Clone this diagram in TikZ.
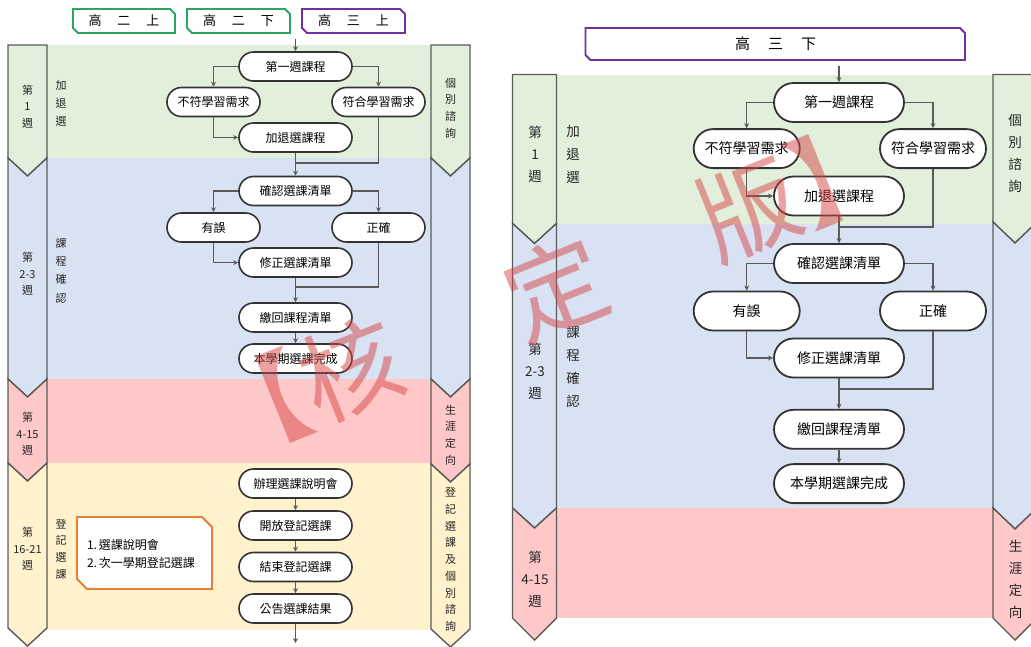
\documentclass[tikz,border=0pt]{standalone}
\usepackage{fontspec}
\setmainfont{Noto Sans CJK TC}
\usetikzlibrary{arrows.meta}
\definecolor{bgreen}{HTML}{E2EFDA}
\definecolor{bblue}{HTML}{D9E2F3}
\definecolor{bpink}{HTML}{FFC8C8}
\definecolor{byellow}{HTML}{FFF2CC}
\definecolor{chevline}{HTML}{5A5A5A}
\definecolor{boxline}{HTML}{333333}
\definecolor{tabgreen}{HTML}{2EA55E}
\definecolor{tabpurple}{HTML}{7030A0}
\definecolor{noteorange}{HTML}{E87D33}
\definecolor{wmred}{HTML}{D64545}
% chevron: x1 x2 ytop ybot depth fill topdepth
\newcommand\mychev[7]{\filldraw[chev,fill=#6] (#1,#3) -- ({(#1+#2)/2},{#3+#7}) -- (#2,#3) -- (#2,#4) -- ({(#1+#2)/2},{#4+#5}) -- (#1,#4) -- cycle;}
% snipped box: x1 y1 x2 y2 snip style
\newcommand\snipbox[6]{\draw[#6] (#1,#2) -- ({#3-#5},#2) -- (#3,{#2+#5}) -- (#3,#4) -- ({#1+#5},#4) -- (#1,{#4-#5}) -- cycle;}
\tikzset{
  lbox/.style={draw=boxline, line width=1.6pt, fill=white, rounded corners=14.5pt, minimum width=113pt, minimum height=29pt, inner sep=0pt, font=\fontsize{12}{14}\selectfont},
  lboxs/.style={lbox, minimum width=93pt},
  rbox/.style={draw=boxline, line width=1.8pt, fill=white, rounded corners=19.5pt, minimum width=130pt, minimum height=39pt, inner sep=0pt, font=\fontsize{14}{16}\selectfont},
  rboxs/.style={rbox, minimum width=106pt},
  conn/.style={draw=chevline, line width=1.3pt},
  arr/.style={conn, -{Stealth[length=5pt,width=5pt]}},
  chev/.style={draw=chevline, line width=1.4pt, line join=miter},
  vlabL/.style={align=center, inner sep=0pt, text=black!85, font=\fontsize{11}{16.7}\selectfont},
  vlabLb/.style={align=center, inner sep=0pt, text=black!85, font=\fontsize{11}{18.2}\selectfont},
  vlabR/.style={align=center, inner sep=0pt, text=black!85, font=\fontsize{13.5}{22}\selectfont},
  vlabRb/.style={align=center, inner sep=0pt, text=black!85, font=\fontsize{13.5}{23}\selectfont},
  tabtxt/.style={inner sep=0pt, font=\fontsize{13}{15}\selectfont},
  tabgs/.style={draw=tabgreen, line width=1.8pt, fill=white},
  tabps/.style={draw=tabpurple, line width=1.8pt, fill=white},
  notes/.style={draw=noteorange, line width=1.8pt, fill=white},
  wm/.style={inner sep=0pt, text=wmred, text opacity=0.5, font=\fontsize{100}{100}\selectfont}
}
\begin{document}
\begin{tikzpicture}[x=1pt,y=-1pt]
\useasboundingbox (0,0) rectangle (1031,646);
% ================= LEFT PANEL =================
% bands
\fill[bgreen] (47,45) rectangle (431,158);
\fill[bblue] (47,158) rectangle (431,379);
\fill[bpink] (47,379) rectangle (431,463);
\fill[byellow] (47,463) rectangle (431,630);
% chevrons left column
\mychev{8}{47}{45}{158}{18}{bgreen}{0}
\mychev{8}{47}{158}{379}{18}{bblue}{18}
\mychev{8}{47}{379}{463}{18}{bpink}{18}
\mychev{8}{47}{463}{628}{18}{byellow}{18}
% chevrons right column
\mychev{431}{470}{45}{158}{18}{bgreen}{0}
\mychev{431}{470}{158}{379}{18}{bblue}{18}
\mychev{431}{470}{379}{464}{18}{bpink}{18}
\mychev{431}{470}{464}{629}{18}{byellow}{18}
% tabs
\snipbox{73}{9}{175}{33}{5}{tabgs}
\snipbox{187}{9}{290}{33}{5}{tabgs}
\snipbox{302}{9}{405}{33}{5}{tabps}
\node[tabtxt] (tabA) at (124,21) {高\hspace{16pt}二\hspace{16pt}上};
\node[tabtxt] (tabB) at (238.5,21) {高\hspace{16pt}二\hspace{16pt}下};
\node[tabtxt] (tabC) at (353.5,21) {高\hspace{16pt}三\hspace{16pt}上};
% chevron texts
\node[vlabL] (lw1) at (27.5,106.5) {第\\1\\週};
\node[vlabL] (lw2) at (27.5,274) {第\\2-3\\週};
\node[vlabL] (lw3) at (27.5,434) {第\\4-15\\週};
\node[vlabL] (lw4) at (27.5,549) {第\\16-21\\週};
\node[vlabLb] (lb1) at (61,103.5) {加\\退\\選};
\node[vlabLb] (lb2) at (61,270.5) {課\\程\\確\\認};
\node[vlabL] (lb3) at (61,549) {登\\記\\選\\課};
\node[vlabL] (lr1) at (450.5,108) {個\\別\\諮\\詢};
\node[vlabL] (lr2) at (450.5,435) {生\\涯\\定\\向};
\node[vlabL] (lr3) at (450.5,559.5) {登\\記\\選\\課\\及\\個\\別\\諮\\詢};
% note
\snipbox{77}{517}{212}{589}{10}{notes}
\node[align=left, text width=115pt, inner sep=0pt, font=\fontsize{12}{18}\selectfont] (note) at (144.5,554) {1.\,選課說明會\\2.\,次一學期登記選課};
% flow boxes
\node[lbox] (L1) at (295.5,66.5) {第一週課程};
\node[lboxs] (Lno) at (213.5,102) {不符學習需求};
\node[lboxs] (Lyes) at (378.5,102) {符合學習需求};
\node[lbox] (Ladd) at (295.5,137.5) {加退選課程};
\node[lbox] (Lconf) at (295.5,191) {確認選課清單};
\node[lboxs] (Lerr) at (213.5,227.5) {有誤};
\node[lboxs] (Lok) at (378.5,227.5) {正確};
\node[lbox] (Lfix) at (295.5,262.5) {修正選課清單};
\node[lbox] (Lsub) at (295.5,317.5) {繳回課程清單};
\node[lbox] (Ldone) at (295.5,358.5) {本學期選課完成};
\node[lbox] (Lr1) at (295.5,483.5) {辦理選課說明會};
\node[lbox] (Lr2) at (295.5,525.5) {開放登記選課};
\node[lbox] (Lr3) at (295.5,567) {結束登記選課};
\node[lbox] (Lr4) at (295.5,608.5) {公告選課結果};
\coordinate (Lt) at (295.5,39);
\coordinate (Lm1) at (295.5,163);
\coordinate (Lm2) at (295.5,287);
\coordinate (Lend) at (295.5,643);
% connectors
\draw[arr] (Lt) -- (L1.north);
\draw[arr] (L1.west) -| (Lno.north);
\draw[arr] (L1.east) -| (Lyes.north);
\draw[arr] (Lno.south) |- (Ladd.west);
\draw[conn] (Lyes.south) |- (Lm1);
\draw[arr] (Ladd.south) -- (Lconf.north);
\draw[arr] (Lconf.west) -| (Lerr.north);
\draw[arr] (Lconf.east) -| (Lok.north);
\draw[arr] (Lerr.south) |- (Lfix.west);
\draw[conn] (Lok.south) |- (Lm2);
\draw[arr] (Lfix.south) -- (Lsub.north);
\draw[arr] (Lsub.south) -- (Ldone.north);
\draw[arr] (Lr1.south) -- (Lr2.north);
\draw[arr] (Lr2.south) -- (Lr3.north);
\draw[arr] (Lr3.south) -- (Lr4.north);
\draw[arr] (Lr4.south) -- (Lend);
% ================= RIGHT PANEL =================
\fill[bgreen] (556.5,74.5) rectangle (993,223.5);
\fill[bblue] (556.5,223.5) rectangle (993,508);
\fill[bpink] (556.5,508) rectangle (993,618);
\mychev{512.5}{556.5}{74.5}{223.5}{20}{bgreen}{0}
\mychev{512.5}{556.5}{223.5}{508}{20}{bblue}{20}
\mychev{512.5}{556.5}{508}{618}{22}{bpink}{20}
\mychev{993}{1037}{74.5}{222}{21}{bgreen}{0}
\mychev{993}{1037}{222}{508}{21}{bblue}{21}
\mychev{993}{1037}{508}{618}{22}{bpink}{21}
\snipbox{585.5}{28}{965}{60}{5}{tabps}
\node[inner sep=0pt, font=\fontsize{15}{17}\selectfont] (tabD) at (775.5,44) {高\hspace{18pt}三\hspace{18pt}下};
\node[vlabR] (rw1) at (535,154.5) {第\\1\\週};
\node[vlabR] (rw2) at (535,371) {第\\2-3\\週};
\node[vlabR] (rw3) at (535,579) {第\\4-15\\週};
\node[vlabRb] (rb1) at (573,154.5) {加\\退\\選};
\node[vlabRb] (rb2) at (573,367) {課\\程\\確\\認};
\node[vlabR] (rr1) at (1015,153) {個\\別\\諮\\詢};
\node[vlabR] (rr2) at (1015.5,579.5) {生\\涯\\定\\向};
\node[rbox] (R1) at (839,102.5) {第一週課程};
\node[rboxs] (Rno) at (746.7,148.6) {不符學習需求};
\node[rboxs] (Ryes) at (933,148.6) {符合學習需求};
\node[rbox] (Radd) at (839,196) {加退選課程};
\node[rbox] (Rconf) at (839,263.5) {確認選課清單};
\node[rboxs] (Rerr) at (746.7,311) {有誤};
\node[rboxs] (Rok) at (933,311) {正確};
\node[rbox] (Rfix) at (839,358) {修正選課清單};
\node[rbox] (Rsub) at (839,429.3) {繳回課程清單};
\node[rbox] (Rdone) at (839,483.6) {本學期選課完成};
\coordinate (Rt) at (839,66);
\coordinate (Rm1) at (839,227);
\coordinate (Rm2) at (839,389);
\draw[arr] (Rt) -- (R1.north);
\draw[arr] (R1.west) -| (Rno.north);
\draw[arr] (R1.east) -| (Ryes.north);
\draw[arr] (Rno.south) |- (Radd.west);
\draw[conn] (Ryes.south) |- (Rm1);
\draw[arr] (Radd.south) -- (Rconf.north);
\draw[arr] (Rconf.west) -| (Rerr.north);
\draw[arr] (Rconf.east) -| (Rok.north);
\draw[arr] (Rerr.south) |- (Rfix.west);
\draw[conn] (Rok.south) |- (Rm2);
\draw[arr] (Rfix.south) -- (Rsub.north);
\draw[arr] (Rsub.south) -- (Rdone.north);
% ================= WATERMARK =================
\node[wm, rotate=22] (wmA) at (304,388) {【核};
\node[wm, rotate=22] (wmB) at (556,288) {定};
\node[wm, rotate=22] (wmC) at (795,190) {版】};
\end{tikzpicture}
\end{document}
